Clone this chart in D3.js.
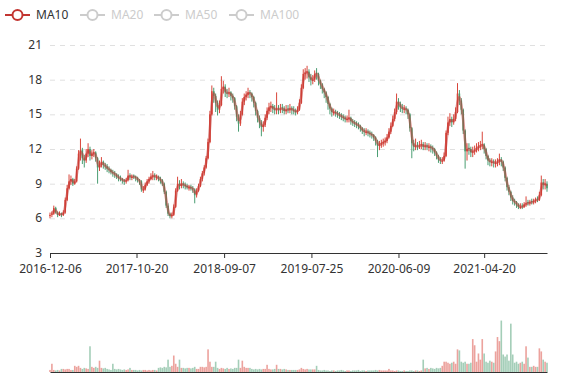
<!DOCTYPE html>
<html><head><meta charset="utf-8">
<script src="https://cdn.jsdelivr.net/npm/d3@7"></script>
<style>body{margin:0;background:#fff}svg{display:block;font-family:"Noto Sans",sans-serif}</style>
</head><body><svg id="c" width="577" height="380"></svg>
<script>
// ---- data (weekly bars) ----
const startDate = "2016-12-06";
const xTickLabels = ["2016-12-06","2017-10-20","2018-09-07","2019-07-25","2020-06-09","2021-04-20"];
const yTicks = [3,6,9,12,15,18,21];
const legendNames = ["MA10","MA20","MA50","MA100"];
const activeSeries = ["MA10"];
// [open, close, low, high]
const candles = [
[6.2,6.3,6.0,6.5],[6.3,6.4,6.1,6.6],[6.4,6.9,6.3,7.1],[6.9,6.5,6.4,7.0],[6.5,6.3,6.1,6.6],[6.3,6.4,6.2,6.6],[6.4,6.3,6.1,6.5],[6.3,6.5,6.2,6.7],[6.5,7.6,6.4,7.8],[7.6,8.6,7.5,8.9],
[8.6,9.2,8.5,9.8],[9.2,9.4,8.9,9.7],[9.4,9.0,8.8,9.5],[9.0,9.2,8.9,9.4],[9.2,10.3,9.1,10.5],[10.3,11.6,10.2,11.9],[11.6,11.9,11.0,12.9],[11.9,11.2,10.7,12.1],[11.2,11.0,10.4,11.5],[11.0,11.6,10.8,12.0],
[11.6,12.0,11.3,12.5],[12.0,11.4,11.0,12.2],[11.4,11.6,11.1,11.9],[11.6,11.7,11.3,12.0],[11.7,11.2,10.9,11.8],[11.2,10.4,9.0,11.3],[10.4,10.6,10.1,11.0],[10.6,10.9,10.4,11.3],[10.9,10.6,10.3,11.0],[10.6,10.5,10.2,10.8],
[10.5,10.3,10.0,10.7],[10.3,10.2,9.9,10.5],[10.2,10.0,9.8,10.3],[10.0,9.9,9.6,10.2],[9.9,9.8,9.5,10.1],[9.8,9.6,9.4,9.9],[9.6,9.5,9.2,9.8],[9.5,9.4,9.2,9.7],[9.4,9.3,9.0,9.5],[9.3,9.2,8.9,9.4],
[9.2,9.3,9.0,9.5],[9.3,9.7,9.2,10.2],[9.7,9.6,9.3,9.9],[9.5,9.6,9.3,9.8],[9.7,9.6,9.4,9.8],[9.6,9.5,9.2,9.7],[9.5,9.3,9.1,9.6],[9.3,9.2,8.9,9.4],[9.2,8.5,8.3,9.3],[8.4,8.5,8.2,8.8],
[8.5,8.9,8.4,9.1],[8.9,9.2,8.8,9.4],[9.2,9.4,9.0,9.6],[9.4,9.6,9.3,9.9],[9.6,9.7,9.3,10.1],[9.7,9.6,9.3,9.9],[9.5,9.6,9.3,9.8],[9.6,9.4,9.2,9.7],[9.4,9.3,9.0,9.6],[9.3,9.0,8.8,9.4],
[9.0,8.3,8.1,9.1],[8.3,7.1,6.9,8.4],[7.1,6.4,6.2,7.3],[6.4,6.2,6.0,6.5],[6.2,6.3,6.0,6.5],[6.3,7.0,6.2,7.2],[7.0,8.4,6.9,8.6],[8.4,9.0,8.3,9.6],[9.0,8.8,8.5,9.3],[8.8,9.0,8.6,9.4],
[9.0,8.9,8.6,9.2],[8.9,8.8,8.5,9.1],[8.8,8.7,8.5,9.0],[8.6,8.7,8.4,8.9],[8.7,8.6,8.4,8.9],[8.6,8.5,8.2,8.8],[8.5,8.0,7.3,8.6],[8.0,8.4,7.8,8.6],[8.4,8.8,8.3,9.0],[8.8,9.4,8.7,9.6],
[9.4,9.9,9.2,10.1],[9.9,10.4,9.7,10.6],[10.4,11.2,10.3,11.4],[11.2,12.6,11.1,12.9],[12.6,15.0,12.5,15.3],[15.0,17.0,14.9,17.5],[17.0,16.6,16.0,17.3],[16.6,16.0,15.2,16.8],[16.0,15.4,14.9,16.2],[15.4,15.8,15.1,16.2],
[15.8,17.2,15.7,18.3],[17.2,17.4,16.8,17.9],[17.4,16.9,16.5,17.6],[16.9,16.8,16.4,17.2],[16.8,16.9,16.5,17.3],[16.9,16.6,16.2,17.0],[16.6,16.4,16.0,16.8],[16.4,15.7,15.4,16.5],[15.7,14.8,14.4,15.8],[14.8,14.2,13.5,15.0],
[14.2,15.0,14.0,15.3],[15.0,16.1,14.9,16.4],[16.1,16.5,15.8,16.8],[16.5,16.7,16.2,17.0],[16.7,16.9,16.4,17.3],[16.9,16.8,16.4,17.1],[16.8,16.5,16.1,16.9],[16.5,16.0,15.6,16.6],[16.0,15.3,14.9,16.1],[15.3,14.7,14.3,15.4],
[14.7,14.3,13.8,14.9],[14.3,13.9,13.1,14.5],[13.9,14.1,13.5,14.4],[14.1,14.7,13.9,15.0],[14.7,15.3,14.5,15.6],[15.3,15.6,15.0,16.0],[15.6,15.7,15.2,16.1],[15.7,15.5,15.1,15.9],[15.5,15.4,15.0,15.8],[15.4,15.5,15.0,16.9],
[15.5,15.4,15.0,15.8],[15.4,15.5,15.1,15.9],[15.6,15.5,15.1,15.9],[15.5,15.3,15.0,15.7],[15.3,15.4,15.0,15.8],[15.5,15.4,15.1,15.8],[15.4,15.5,15.1,15.9],[15.5,15.4,15.0,15.7],[15.4,15.3,15.0,15.7],[15.3,15.2,14.9,15.5],
[15.2,15.4,15.0,15.7],[15.4,16.0,15.3,16.3],[16.0,17.3,15.9,17.6],[17.3,18.5,17.2,18.9],[18.5,18.6,18.0,19.0],[18.6,18.7,18.1,19.2],[18.7,18.2,17.8,18.9],[18.2,18.0,17.5,18.5],[17.9,18.0,17.6,18.4],[18.0,18.5,17.8,18.8],
[18.6,18.5,18.0,19.0],[18.5,17.9,17.5,18.6],[17.9,17.6,17.2,18.0],[17.6,17.2,16.8,17.7],[17.2,16.9,16.4,17.3],[16.9,16.5,16.0,17.0],[16.5,15.9,15.4,16.6],[15.9,15.5,15.0,16.0],[15.5,15.2,14.8,15.6],[15.1,15.2,14.9,15.5],
[15.2,15.1,14.8,15.4],[15.1,15.0,14.7,15.3],[15.0,14.9,14.6,15.2],[14.9,14.8,14.5,15.1],[14.8,14.7,14.4,15.0],[14.7,14.6,14.3,14.9],[14.5,14.6,14.3,14.9],[14.6,14.7,14.3,15.4],[14.7,14.4,14.1,14.8],[14.4,14.3,14.0,14.6],
[14.3,14.2,13.9,14.5],[14.2,14.1,13.8,14.4],[14.1,14.0,13.7,14.3],[14.0,13.8,13.5,14.1],[13.8,13.6,13.3,13.9],[13.6,13.5,13.1,13.8],[13.4,13.5,13.2,13.8],[13.5,13.4,13.1,13.7],[13.4,13.3,13.0,13.6],[13.3,13.2,12.9,13.5],
[13.2,13.0,12.7,13.3],[13.0,12.7,12.3,13.1],[12.7,12.3,11.3,12.8],[12.3,12.4,11.9,12.7],[12.4,12.5,12.1,12.8],[12.5,12.6,12.2,12.9],[12.6,12.7,12.3,13.0],[12.7,13.0,12.5,13.3],[13.0,13.5,12.9,13.8],[13.5,14.0,13.3,14.3],
[14.0,14.6,13.9,14.9],[14.6,15.2,14.4,15.5],[15.2,16.1,15.0,16.8],[16.1,15.9,15.4,16.4],[15.9,15.6,15.2,16.1],[15.6,15.5,15.1,15.9],[15.4,15.5,15.1,15.8],[15.5,15.4,15.0,15.7],[15.4,15.0,14.6,15.5],[15.0,13.8,13.5,15.1],
[13.8,12.5,11.2,13.9],[12.5,12.2,11.8,12.8],[12.2,12.3,11.9,12.9],[12.3,12.2,11.9,12.6],[12.2,12.3,12.0,12.7],[12.3,12.4,12.0,12.8],[12.4,12.2,11.9,12.6],[12.2,12.3,11.9,12.6],[12.3,12.2,11.9,12.5],[12.1,12.2,11.8,12.5],
[12.2,12.1,11.7,12.4],[12.1,12.0,11.6,12.3],[12.0,11.7,11.4,12.1],[11.7,11.4,11.1,11.8],[11.4,11.1,10.8,11.5],[11.1,11.0,10.7,11.3],[10.9,11.0,10.7,11.3],[11.0,11.4,10.9,11.7],[11.4,13.4,11.3,13.6],[13.4,14.3,13.2,14.8],
[14.3,14.6,14.0,15.1],[14.6,14.3,13.9,14.8],[14.3,14.6,14.1,15.0],[14.6,15.2,14.4,15.6],[15.2,16.8,15.1,17.7],[16.8,16.2,15.8,17.1],[16.2,15.4,15.0,16.4],[15.4,13.6,13.3,15.5],[13.6,11.8,10.3,13.7],[11.8,12.0,11.0,12.5],
[12.1,12.0,11.5,12.5],[12.0,11.7,11.3,12.2],[11.7,11.8,11.3,12.2],[11.8,11.9,11.5,12.3],[11.9,12.1,11.7,12.5],[12.1,12.2,11.8,12.6],[12.2,12.3,11.9,12.7],[12.3,12.4,12.0,13.5],[12.4,12.0,11.6,12.5],[12.0,11.4,11.1,12.1],
[11.4,11.0,10.6,11.5],[11.0,10.9,10.5,11.2],[10.8,10.9,10.5,11.2],[10.9,10.8,10.4,11.1],[10.7,10.8,10.4,11.1],[10.8,10.9,10.5,11.2],[10.9,11.1,10.6,11.6],[11.1,10.9,10.5,11.3],[10.9,10.4,10.1,11.0],[10.4,9.5,9.2,10.5],
[9.5,8.7,8.4,9.6],[8.7,8.3,8.0,8.9],[8.3,7.8,7.5,8.4],[7.8,7.5,7.2,8.0],[7.5,7.4,7.1,7.7],[7.4,7.2,6.9,7.5],[7.2,7.0,6.8,7.3],[6.9,7.0,6.8,7.3],[7.1,7.0,6.8,7.3],[7.0,7.2,6.9,7.4],
[7.2,7.3,7.0,7.9],[7.4,7.3,7.1,7.6],[7.3,7.4,7.1,7.6],[7.5,7.4,7.2,7.7],[7.4,7.5,7.2,7.7],[7.5,7.6,7.3,7.8],[7.7,7.6,7.4,7.9],[7.6,8.0,7.5,8.3],[8.0,9.1,7.9,9.7],[9.1,8.9,8.5,9.4],
[8.9,9.0,8.5,9.4],[9.0,8.6,8.3,9.2]
];
const volumes = [
4,16,4,3,4,3,6,6,5,6,
6,4,4,12,10,12,8,6,8,7,
6,50,10,8,10,8,22,8,7,8,
6,5,4,16,6,5,6,5,4,5,
4,5,8,4,4,4,3,4,3,4,
4,3,4,3,4,4,3,8,9,8,
10,9,24,10,12,32,16,10,24,8,
8,7,8,8,7,8,10,6,6,10,
10,9,10,44,20,10,10,20,8,6,
8,7,6,8,6,7,6,8,8,24,
8,22,10,8,8,8,6,5,6,5,
6,5,6,6,14,6,5,5,6,14,
6,6,5,6,5,4,4,4,4,4,
4,5,8,6,5,6,5,5,5,5,
12,4,3,3,4,3,3,2,3,3,
2,3,3,4,3,2,3,3,2,3,
3,3,4,2,3,3,2,3,3,3,
3,4,3,4,3,3,3,3,6,3,
3,2,3,3,2,2,3,2,2,3,
3,2,3,3,2,3,24,7,8,6,
8,7,6,8,7,8,12,20,20,18,
16,18,20,16,44,42,20,18,20,16,
16,18,64,52,20,36,24,64,36,20,
18,22,20,18,40,68,60,100,34,30,
34,22,94,34,18,20,16,18,20,16,
50,28,10,10,12,10,10,46,40,24,
20,18
];

// ---- layout ----
const mainTop = 45, mainBottom = 253, left = 50, right = 547;
const volTop = 300, volBottom = 372;
const upColor = "#d9463b", downColor = "#4a9d72", maColor = "#c23531";
const FONT = '"Noto Sans",sans-serif';

const parse = d3.timeParse("%Y-%m-%d");
const start = parse(startDate);
const weekDate = i => d3.timeDay.offset(start, 7 * i);   // weekly bar dates
const rows = candles.map((c, i) => ({date: weekDate(i), open: c[0], close: c[1], low: c[2], high: c[3], vol: volumes[i] || 0}));

const svg = d3.select("#c");
const x = d3.scaleTime().domain([rows[0].date, rows[rows.length-1].date]).range([left, right]);
const y = d3.scaleLinear().domain([3, 21]).range([mainBottom, mainTop]);
const yv = d3.scaleLinear().domain([0, 140]).range([volBottom, volTop]);

// grid
svg.append("g").selectAll("line").data(yTicks.filter(t => t !== 3)).join("line")
  .attr("x1", left).attr("x2", right)
  .attr("y1", d => y(d) + 0.5).attr("y2", d => y(d) + 0.5)
  .attr("stroke", "#e0e0e0").attr("stroke-dasharray", "5,5");

// y axis labels
const yAxis = svg.append("g").attr("transform", `translate(${left},0)`)
  .call(d3.axisLeft(y).tickValues(yTicks).tickSize(0).tickPadding(8));
yAxis.select(".domain").remove();
yAxis.selectAll("text").attr("fill", "#333").attr("dy", "0.28em").style("font-size", "12px").style("font-family", FONT);

// candles
const cg = svg.append("g");
const isUp = d => d.close >= d.open;
cg.selectAll("line.w").data(rows).join("line").attr("class", "w")
  .attr("x1", d => x(d.date)).attr("x2", d => x(d.date))
  .attr("y1", d => y(d.high)).attr("y2", d => y(d.low))
  .attr("stroke", d => isUp(d) ? upColor : downColor).attr("stroke-width", 1);
cg.selectAll("rect").data(rows).join("rect")
  .attr("x", d => x(d.date) - 0.8).attr("width", 1.6)
  .attr("y", d => y(Math.max(d.open, d.close)))
  .attr("height", d => Math.max(1, Math.abs(y(d.open) - y(d.close))))
  .attr("fill", d => isUp(d) ? upColor : downColor);

// MA10: 10 trading days = 2 weekly bars
const maWindow = 2;
const ma = rows.map((d, i) => i < maWindow - 1 ? null : {date: d.date, v: d3.mean(rows.slice(i - maWindow + 1, i + 1), r => r.close)}).filter(Boolean);
svg.append("path").datum(ma)
  .attr("d", d3.line().x(d => x(d.date)).y(d => y(d.v)).curve(d3.curveMonotoneX))
  .attr("fill", "none").attr("stroke", maColor).attr("stroke-width", 2.6).attr("stroke-opacity", 0.5);

// x axis
const xAxis = svg.append("g").attr("transform", `translate(0,${mainBottom})`)
  .call(d3.axisBottom(x).tickValues(xTickLabels.map(parse)).tickFormat(d3.timeFormat("%Y-%m-%d")).tickSize(5).tickSizeOuter(0).tickPadding(6.5));
xAxis.select(".domain").attr("stroke", "#333");
xAxis.selectAll(".tick line").attr("stroke", "#333");
xAxis.selectAll("text").attr("fill", "#333").style("font-size", "12px").style("font-family", FONT);

// volume bars
svg.append("g").selectAll("rect").data(rows).join("rect")
  .attr("x", d => x(d.date) - 0.8).attr("width", 1.6)
  .attr("y", d => yv(d.vol)).attr("height", d => yv(0) - yv(d.vol))
  .attr("fill", d => isUp(d) ? upColor : downColor).attr("fill-opacity", 0.5);
const vAxis = svg.append("g").attr("transform", `translate(0,${volBottom})`)
  .call(d3.axisBottom(x).tickValues([]).tickSizeOuter(0));
vAxis.select(".domain").attr("stroke", "#333");

// legend
const legendX = [5, 80, 154, 229];
const lg = svg.append("g").selectAll("g").data(legendNames).join("g")
  .attr("transform", (d, i) => `translate(${legendX[i]},15)`);
lg.each(function(name) {
  const on = activeSeries.includes(name);
  const col = on ? maColor : "#ccc";
  const g = d3.select(this);
  g.append("line").attr("x1", 0).attr("x2", 25).attr("y1", 0).attr("y2", 0).attr("stroke", col).attr("stroke-width", 2);
  g.append("circle").attr("cx", 12.5).attr("cy", 0).attr("r", 5).attr("fill", "#fff").attr("stroke", col).attr("stroke-width", 2);
  g.append("text").attr("x", 31).attr("y", 0).attr("dy", "0.35em").text(name)
    .attr("fill", on ? "#333" : "#ccc").style("font-size", "12px").style("font-family", FONT);
});
</script></body></html>
